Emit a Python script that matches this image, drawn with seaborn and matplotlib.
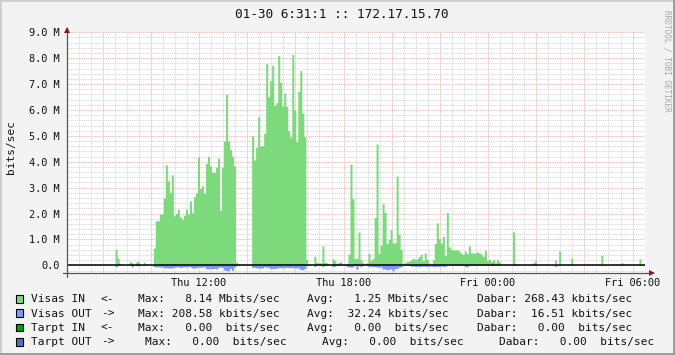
import numpy as np
import pandas as pd
import matplotlib
matplotlib.use("Agg")
import matplotlib.pyplot as plt
import matplotlib.ticker as mticker
from matplotlib.patches import Rectangle
from matplotlib.lines import Line2D
import seaborn as sns

# ---------------- data ----------------
start_hour = 6 + 31 / 60          # Thu 06:31
step_hours = 5 / 60               # 5-minute samples
title = "01-30 6:31:1 :: 172.17.15.70"

# Visas IN (Mbit/s), one value per 5 minutes
visas_in = (
    [0] * 24 + [0.62, 0.28, 0.05] + [0] * 4 + [0.15, 0.10, 0.03, 0.13, 0.16] + [0] * 2 + [0.12] + [0] * 4
    + [0.67, 1.72, 1.72, 1.98, 1.98, 2.60, 3.88, 3.26, 2.82, 3.49, 1.91, 2.00, 2.17, 1.87,
       1.78, 1.93, 2.17, 1.98, 2.49, 2.03, 2.65, 2.80, 4.19, 2.97, 3.07, 2.78, 3.94, 4.21,
       3.84, 3.59, 3.59, 3.79, 4.14, 2.13, 3.79, 4.80, 6.60, 4.80, 4.48, 4.22, 3.84, 0.12]
    + [0.05] + [0] * 6
    + [5.00, 4.07, 4.55, 5.74, 4.61, 4.61, 5.09, 7.80, 6.51, 7.13, 7.73, 6.18, 6.28, 8.10,
       7.07, 6.15, 6.65, 6.14, 5.19, 4.95, 8.14, 6.00, 4.78, 6.72, 7.52, 5.88, 4.97, 0.22]
    + [0] * 3 + [0.35, 0.12, 0.10, 0.10, 0.75, 0.12, 0.10] + [0] * 2
    + [0.26, 0.18, 0.06, 0.12, 0.14] + [0] * 2
    + [0.06, 0.43, 3.91, 2.57, 0.26, 0.26, 1.29, 0.22, 0.10] + [0]
    + [0.10, 0.46, 0.18, 0.26, 1.85, 4.69, 0.46, 0.78, 2.38, 2.04, 0.84, 1.00, 1.38, 0.87,
       0.87, 3.45, 1.20, 0.61, 0.08, 0.10, 0.16, 0.16, 0.22, 0.28, 0.22, 0.26, 0.34, 0.43,
       0.18, 0.48, 0.24, 0.10]
    + [0]
    + [0.22, 0.84, 1.64, 1.03, 0.84, 1.12, 0.39, 2.04, 0.71, 0.62, 0.58, 0.60, 0.60, 0.55,
       0.46, 0.43, 0.55, 0.45, 0.75, 0.48, 0.48, 0.48, 0.52, 0.48, 0.43, 0.34, 0.58, 0.19,
       0.23, 0.14, 0.23, 0.10, 0.22, 0.14]
    + [0] * 6 + [1.29, 0.08] + [0] * 8 + [0.10, 0.18] + [0] * 9 + [0.20] + [0] + [0.55]
    + [0] * 5 + [0.28] + [0] * 14 + [0.39] + [0] * 9 + [0.10] + [0] * 8 + [0.25] + [0] * 2
)

# Visas OUT (Mbit/s, drawn below zero)
visas_out = (
    [0] * 24 + [0.06] + [0] * 7 + [0.06] + [0] * 2 + [0.03] + [0] * 7
    + [0.05, 0.06, 0.06, 0.07, 0.06, 0.10, 0.09, 0.10, 0.11, 0.10, 0.07, 0.06, 0.07, 0.08,
       0.07, 0.06, 0.06, 0.05, 0.06, 0.10, 0.11, 0.09, 0.07, 0.08, 0.07, 0.06, 0.13, 0.14,
       0.12, 0.13, 0.12, 0.14, 0.08, 0.07, 0.09, 0.18, 0.20, 0.21, 0.12, 0.20, 0.07, 0.02]
    + [0] * 7
    + [0.08, 0.08, 0.10, 0.10, 0.11, 0.10, 0.05, 0.08, 0.08, 0.13, 0.12, 0.12, 0.11, 0.09,
       0.09, 0.10, 0.09, 0.08, 0.09, 0.09, 0.09, 0.10, 0.10, 0.11, 0.17, 0.17, 0.13, 0.02]
    + [0] * 3 + [0.05] + [0] * 3 + [0.05] + [0] * 4 + [0.05, 0.04] + [0] * 5
    + [0.05, 0.06, 0.07, 0.06] + [0] + [0.15] + [0] + [0.05] + [0] * 3
    + [0.05, 0.04, 0.05, 0.05, 0.07, 0.07, 0.06, 0.15, 0.14, 0.17, 0.16, 0.13, 0.21, 0.13,
       0.12, 0.07, 0.06]
    + [0] * 4
    + [0.04, 0.03, 0.04, 0.04, 0.05, 0.04, 0.03, 0.04, 0.04, 0.03, 0.04, 0.04, 0.05, 0.04,
       0.04, 0.03, 0.04, 0.04]
    + [0] * 9 + [0.05, 0.05] + [0] * 43 + [0.05] + [0] * 44
)
assert len(visas_in) == 288 and len(visas_out) == 288

x_tick_hours = [12, 18, 24, 30]
x_tick_labels = ["Thu 12:00", "Thu 18:00", "Fri 00:00", "Fri 06:00"]
y_tick_values = [0, 1, 2, 3, 4, 5, 6, 7, 8, 9]
y_tick_labels = ["0.0", "1.0 M", "2.0 M", "3.0 M", "4.0 M", "5.0 M", "6.0 M", "7.0 M", "8.0 M", "9.0 M"]

legend_names = ["Visas IN", "Visas OUT", "Tarpt IN", "Tarpt OUT"]
legend_dirs = ["<-", "->", "<-", "->"]
legend_max = ["Max:   8.14 Mbits/sec", "Max: 208.58 kbits/sec", "Max:   0.00  bits/sec", "Max:   0.00  bits/sec"]
legend_avg = ["Avg:   1.25 Mbits/sec", "Avg:  32.24 kbits/sec", "Avg:   0.00  bits/sec", "Avg:   0.00  bits/sec"]
legend_cur = ["Dabar: 268.43 kbits/sec", "Dabar:  16.51 kbits/sec", "Dabar:   0.00  bits/sec", "Dabar:   0.00  bits/sec"]

# ---------------- style ----------------
GREEN = "#7cd97c"
BLUE = "#8096ff"
DGREEN = "#00a000"
DBLUE = "#5070c8"
legend_colors = [GREEN, BLUE, DGREEN, DBLUE]

sns.set_theme(style="white")
plt.rcParams["font.family"] = ["DejaVu Sans Mono", "DejaVu Sans"]

W, H = 675, 355
fig = plt.figure(figsize=(W / 100, H / 100), dpi=100)
fig.patch.set_facecolor("#f3f3f3")


def fx(px):
    return px / W


def fy(py):
    return 1 - py / H


L, R, T, B = 67, 645, 32.3, 273.1
ax = fig.add_axes([fx(L), fy(B), fx(R) - fx(L), fy(T) - fy(B)])
ax.set_facecolor("white")

n = len(visas_in)
centers = start_hour + (np.arange(n) + 0.5) * step_hours
df = pd.DataFrame({"hour": centers, "in": visas_in, "out": -np.asarray(visas_out)})
brange = (start_hour, start_hour + n * step_hours)

sns.histplot(data=df, x="hour", weights="in", binwidth=step_hours, binrange=brange,
             element="step", fill=True, color=GREEN, alpha=1, linewidth=0, ax=ax, zorder=2)
sns.histplot(data=df, x="hour", weights="out", binwidth=step_hours, binrange=brange,
             element="step", fill=True, color=BLUE, alpha=1, linewidth=0, ax=ax, zorder=2)

ax.axhline(0, color="black", lw=1.1, zorder=4)

ax.set_xlim(start_hour, start_hour + 24)
ax.set_ylim(-0.3, 9.0)
ax.set_xlabel("")
ax.set_ylabel("")

ax.xaxis.set_major_locator(mticker.FixedLocator(np.arange(8, 31, 2)))
ax.xaxis.set_minor_locator(mticker.MultipleLocator(0.5))
lab = dict(zip(x_tick_hours, x_tick_labels))
ax.xaxis.set_major_formatter(mticker.FuncFormatter(lambda v, p: lab.get(int(round(v)), "")))
ax.yaxis.set_major_locator(mticker.FixedLocator(y_tick_values))
ax.yaxis.set_major_formatter(mticker.FixedFormatter(y_tick_labels))
ax.yaxis.set_minor_locator(mticker.MultipleLocator(0.2))

ax.set_axisbelow(True)
ax.grid(which="minor", color="#d6d6d6", ls=(0, (1.4, 0.8)), lw=0.6)
ax.grid(which="major", color="#eab4b4", ls=(0, (1.4, 0.8)), lw=0.6)

ax.tick_params(axis="both", which="major", direction="out", length=2.4, width=0.7,
               color="#777777", labelsize=7.4, labelcolor="#111111")
ax.tick_params(axis="both", which="minor", direction="out", length=1.2, width=0.6,
               color="#999999")
ax.tick_params(axis="y", which="major", pad=3.0)
ax.tick_params(axis="x", which="major", pad=1.2)

for s in ["top", "right", "left", "bottom"]:
    ax.spines[s].set_visible(False)

# axes lines with arrows
axis_col = "#555555"
fig.add_artist(Line2D([fx(L), fx(L)], [fy(B + 3.5), fy(28)], color=axis_col, lw=0.9))
fig.add_artist(Line2D([fx(L - 4), fx(R + 6)], [fy(B), fy(B)], color=axis_col, lw=0.9))
fig.add_artist(Line2D([fx(L)], [fy(29.5)], marker="^", markersize=4.5, color="#8b1a1a",
                      markeredgewidth=0, transform=fig.transFigure))
fig.add_artist(Line2D([fx(R + 7)], [fy(B)], marker=">", markersize=4.5, color="#8b1a1a",
                      markeredgewidth=0, transform=fig.transFigure))

# title, labels, watermark
fig.text(fx(341.6), fy(17.7), title, ha="center", va="baseline", fontsize=9.2, color="#111111")
fig.text(fx(11.2), fy(147), "bits/sec", rotation=90, ha="center", va="center",
         fontsize=8, color="#111111")
fig.text(fx(666.7), fy(60.5), "RRDTOOL / TOBI OETIKER", rotation=270, ha="center",
         va="center", fontsize=5.6, color="#a6a6a6")

# legend
row_base = [302.4, 316.6, 330.7, 344.9]
max_x = [137.7, 137.7, 137.7, 145.0]
avg_x = [307.3, 307.3, 307.3, 321.7]
cur_x = [477.3, 477.3, 477.3, 498.7]
for i in range(4):
    yb = row_base[i]
    fig.add_artist(Rectangle((fx(15.5), fy(yb + 0.6)), 7.6 / W, 7.8 / H,
                             facecolor=legend_colors[i], edgecolor="black", lw=0.8,
                             transform=fig.transFigure))
    kw = dict(ha="left", va="baseline", fontsize=8.0, color="#111111")
    fig.text(fx(30.7), fy(yb), legend_names[i], **kw)
    fig.text(fx(100.7), fy(yb), legend_dirs[i], **kw)
    fig.text(fx(max_x[i]), fy(yb), legend_max[i], **kw)
    fig.text(fx(avg_x[i]), fy(yb), legend_avg[i], **kw)
    fig.text(fx(cur_x[i]), fy(yb), legend_cur[i], **kw)

# frame of the canvas (3D look)
fig.add_artist(Rectangle((0, 1 - 2 / H), 1, 2 / H, facecolor="#cfcfcf", lw=0, transform=fig.transFigure))
fig.add_artist(Rectangle((0, 0), 2 / W, 1, facecolor="#cfcfcf", lw=0, transform=fig.transFigure))
fig.add_artist(Rectangle((0, 0), 1, 2 / H, facecolor="#9e9e9e", lw=0, transform=fig.transFigure))
fig.add_artist(Rectangle((1 - 2 / W, 0), 2 / W, 1, facecolor="#9e9e9e", lw=0, transform=fig.transFigure))

fig.savefig("out.png", dpi=100, facecolor=fig.get_facecolor())
